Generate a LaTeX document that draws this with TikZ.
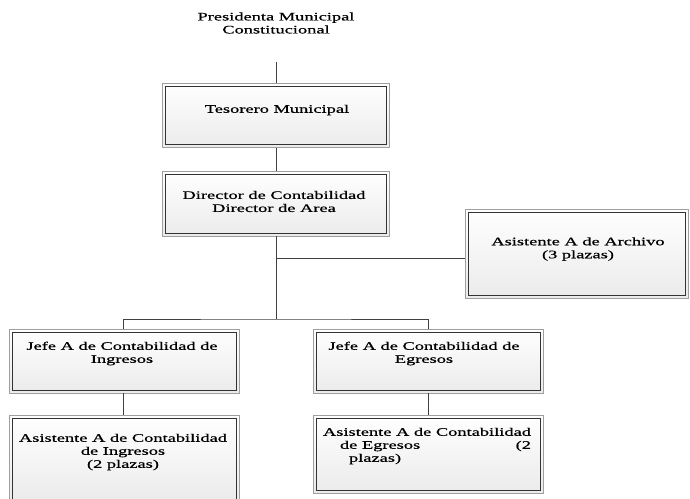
\documentclass[tikz,border=0pt]{standalone}
\usepackage{fontspec}
\usepackage{calc}
\setmainfont{Liberation Serif}[FakeStretch=1.6,FakeBold=0.6]
\usetikzlibrary{calc}
\tikzset{
  box/.style={draw=gray!75, line width=0.8pt,
    top color=white, bottom color=gray!16, rectangle, inner sep=0pt,
    path picture={\draw[gray!40!black, line width=0.9pt]
      ([shift={(3pt,-3pt)}]path picture bounding box.north west) rectangle
      ([shift={(-3pt,3pt)}]path picture bounding box.south east);}},
  txt/.style={align=center, inner sep=0pt, text=black, font=\fontsize{11.5}{13}\selectfont},
  conn/.style={draw=gray!50!black, line width=1pt}
}
\begin{document}
\begin{tikzpicture}[x=1pt,y=-1pt]
\useasboundingbox (0,0) rectangle (690,498);
\clip (0,0) rectangle (690,498);
% boxes
\node[box, minimum width=227pt, minimum height=64pt] (tes) at (276,115.5) {};
\node[box, minimum width=227pt, minimum height=65pt] (dir) at (276,203.5) {};
\node[box, minimum width=223pt, minimum height=89pt] (arch) at (576.5,253.5) {};
\node[box, minimum width=230pt, minimum height=64pt] (ji) at (124.5,361) {};
\node[box, minimum width=230pt, minimum height=90pt] (ai) at (124.5,460) {};
\node[box, minimum width=230pt, minimum height=78pt] (ae) at (428,454) {};
\node[box, minimum width=230pt, minimum height=64pt] (je) at (428,361) {};
% texts
\node[txt] (pres) at (276,23) {Presidenta Municipal\\Constitucional};
\node[txt] (tTes) at (277,110) {Tesorero Municipal};
\node[txt] (tDir) at (274,201.5) {Director de Contabilidad\\Director de Area};
\node[txt] (tArch) at (578,249) {Asistente A de Archivo\\(3 plazas)};
\node[txt] (tJi) at (122,353.5) {Jefe A de Contabilidad de\\Ingresos};
\node[txt] (tAi) at (123,452) {Asistente A de Contabilidad\\de Ingresos\\(2 plazas)};
\node[txt] (tJe) at (424,353.5) {Jefe A de Contabilidad de\\Egresos};
\node[txt, align=left] (tAe) at (427,446) {Asistente A de Contabilidad\\\makebox[\widthof{Asistente A de Contabilidad}][l]{\hspace{17pt}de Egresos\hfill(2}\\\hspace{26pt}plazas)};
% connectors
\coordinate (ptop) at (276,62);
\coordinate (jn) at (276,319);
\coordinate (br) at (276,258);
\draw[conn] (ptop) -- (tes.north);
\draw[conn] (tes.south) -- (dir.north);
\draw[conn] (dir.south) -- (jn);
\draw[conn] (br) -- (br -| arch.west);
\draw[conn] ([xshift=-1.5pt]ji.north) |- (jn) -| (je.north);
\draw[conn] ([xshift=-1.5pt]ji.south) -- ([xshift=-1.5pt]ai.north);
\draw[conn] (je.south) -- (ae.north);
\end{tikzpicture}
\end{document}
